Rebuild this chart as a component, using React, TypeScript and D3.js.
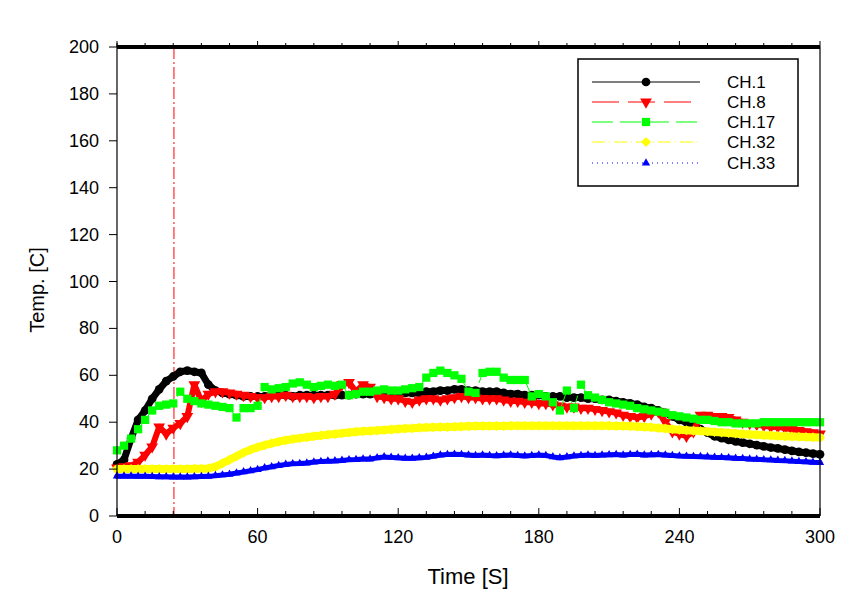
import React from "react";
import * as d3 from "d3";

// sample times (s), every 3 s
const times: number[] = d3.range(0, 301, 3);

const ch1: number[] = [
  22, 24, 33, 41, 45, 50, 54, 57.5, 59.5, 61.5, 62, 61.5, 61, 56, 53.5, 52.5, 52, 51.5, 51, 51,
  51, 51, 51.5, 51.5, 51.5, 51, 51.5, 51.5, 51.5, 51.5, 51.5, 51.5, 51.5, 51.5, 52, 52, 52, 52, 52, 52,
  52, 52.5, 52.5, 52.5, 53, 53, 53.5, 53.5, 54, 54, 53.5, 53.5, 53, 53, 53, 52.5, 52, 52, 51.5, 51.5,
  51.5, 51, 51, 51, 50.5, 50.5, 50.5, 50, 50, 49.5, 49.5, 49, 48.5, 48, 47.5, 46.5, 46, 45, 44, 42.5,
  41, 40, 38.5, 37, 35.5, 34, 33.2, 32.5, 31.8, 31.3, 30.8, 30.2, 29.7, 29.2, 28.8, 28.3, 27.8, 27.3, 27, 26.6,
  26.3,
];

const ch8: number[] = [
  20.5, 21, 21.5, 23, 26, 29.5, 38, 35, 37.5, 39.5, 42.5, 56, 49, 52, 53, 53, 52.5, 52, 51.5, 51,
  50.5, 50.5, 51, 51, 51.5, 51, 51, 51, 50.5, 51, 51, 52, 56, 57, 53, 56, 55, 51, 50.5, 50,
  50, 49, 48.5, 49.5, 50, 50, 49.5, 50, 50.5, 51, 50.5, 50.5, 50, 50, 50, 49.5, 49, 49, 48.5, 48.5,
  48, 48, 47.5, 47, 46.5, 46.5, 46, 46, 45.5, 45, 44.5, 44, 43, 42.5, 42, 42.5, 43.5, 44.5, 40, 36,
  35, 34, 36, 43, 43, 42.5, 42.5, 42, 41, 40, 39.5, 39, 38.5, 38, 38, 37.5, 37, 36.5, 36, 35.5,
  35,
];

const ch17: number[] = [
  28, 30, 33, 37, 41, 45, 47, 47.5, 48, 53, 50, 49, 48, 47.5, 47, 46.5, 46, 42, 46, 46,
  47, 55, 54, 54.5, 55, 56.5, 57, 56, 55, 55.5, 56, 55.5, 56, 51.5, 52, 53, 53, 53.5, 54, 53.5,
  53.5, 54, 54.5, 55, 59, 61, 62, 61, 60, 58.5, 53, 52.5, 61, 61.5, 61.5, 59, 58, 58, 58, 51,
  52, 51, 48.5, 45, 53.5, 46, 56, 51.5, 50.5, 49.5, 48.5, 48, 47.5, 47, 46, 45.5, 45, 44.5, 44, 43,
  42.5, 42, 41.5, 41, 41, 40.5, 40, 40, 39.5, 39.5, 39.5, 39.5, 40, 40, 40, 40, 40, 40, 40, 40,
  40,
];

const ch32: number[] = [
  20, 20, 20, 20, 20, 20, 20, 20, 20, 20, 20, 20.1, 20.2, 20.3, 21, 22.5, 24, 25.5, 27, 28.3,
  29.3, 30.2, 31, 31.7, 32.3, 32.8, 33.2, 33.6, 34, 34.3, 34.7, 35, 35.3, 35.6, 35.9, 36.1, 36.3, 36.5, 36.7, 36.9,
  37.1, 37.3, 37.4, 37.6, 37.7, 37.8, 37.9, 38, 38.1, 38.2, 38.3, 38.4, 38.4, 38.4, 38.4, 38.4, 38.5, 38.5, 38.5, 38.5,
  38.5, 38.5, 38.5, 38.5, 38.5, 38.5, 38.5, 38.5, 38.5, 38.5, 38.5, 38.4, 38.4, 38.3, 38.2, 38, 37.8, 37.5, 37.3, 37,
  36.8, 36.6, 36.4, 36.2, 36, 35.8, 35.6, 35.4, 35.2, 35, 34.8, 34.6, 34.4, 34.3, 34.1, 34, 33.9, 33.8, 33.7, 33.6,
  33.5,
];

const ch33: number[] = [
  17, 17, 17, 16.9, 16.9, 16.8, 16.7, 16.7, 16.6, 16.6, 16.6, 16.7, 16.8, 16.9, 17.2, 17.5, 17.8, 18.3, 18.8, 19.3,
  19.8, 20.5, 21, 21.5, 22, 22.3, 22.4, 22.6, 23, 23.2, 23.4, 23.5, 23.7, 24, 24.1, 24.3, 24.3, 24.8, 25.2, 25,
  24.8, 24.6, 24.6, 24.8, 25, 25.5, 26, 26.2, 26.3, 26.2, 26, 25.8, 26, 25.8, 25.7, 25.9, 26, 25.8, 25.6, 25.8,
  26, 25.8, 25.2, 24.8, 25.2, 25.6, 25.8, 26, 25.8, 26, 26.1, 26.2, 26, 26.2, 26.3, 26, 26.1, 26.2, 26, 25.8,
  25.6, 25.5, 25.4, 25.3, 25.2, 25, 24.9, 24.8, 24.6, 24.5, 24.3, 24.2, 24, 23.9, 23.7, 23.6, 23.4, 23.2, 23.1, 22.9,
  22.8,
];

const seriesNames = ["CH.1", "CH.8", "CH.17", "CH.32", "CH.33"];
const seriesValues = [ch1, ch8, ch17, ch32, ch33];
const seriesColors = ["#000000", "#ff0000", "#00ff00", "#ffff00", "#0000ff"];

const xTicks = [0, 60, 120, 180, 240, 300];
const xMinorStep = 12;
const yTicks = [0, 20, 40, 60, 80, 100, 120, 140, 160, 180, 200];
const eventTimes = [24.3];

// band: width of the dense marker trail (markers every sample overlap into a band)
const styles = [
  { dash: "none", symbol: "circle", size: 60, band: 7 },
  { dash: "27,9", symbol: "triDown", size: 60, band: 6 },
  { dash: "21,7", symbol: "square", size: 68, band: 0 },
  { dash: "13,4,1,4", symbol: "diamond", size: 50, band: 8 },
  { dash: "1,4", symbol: "triUp", size: 30, band: 5 },
];

function symbolPath(kind: string, size: number): string {
  let t: any = d3.symbolCircle;
  if (kind === "square") t = d3.symbolSquare;
  if (kind === "diamond") t = d3.symbolSquare;
  if (kind === "triDown" || kind === "triUp") t = d3.symbolTriangle;
  return d3.symbol().type(t).size(size)() as string;
}
function symbolRot(kind: string): number {
  if (kind === "triDown") return 180;
  if (kind === "diamond") return 45;
  return 0;
}

export default function App() {
  const W = 865, H = 599;
  const x = d3.scaleLinear().domain([0, 300]).range([117, 820]);
  const y = d3.scaleLinear().domain([0, 200]).range([516, 47]);
  const font = "'Liberation Sans', Arial, sans-serif";
  const minor = d3.range(0, 301, xMinorStep);

  const legendX = 578, legendY = 59, legendW = 220, legendH = 127;
  const legendRowY = [82, 102, 122, 142, 163];

  return (
    <svg width={W} height={H} style={{ position: "absolute", left: 0, top: 0, background: "#fff" }}
      fontFamily={font}>
      <rect x={0} y={0} width={W} height={H} fill="#fff" />
      {/* event line */}
      {eventTimes.map((t, i) => (
        <line key={"ev" + i} x1={x(t)} x2={x(t)} y1={y(200)} y2={y(0)} stroke="#ff0000"
          strokeWidth={1} strokeDasharray="12,3,2,3" />
      ))}
      {/* series */}
      {seriesValues.map((vals, si) => {
        const line = d3.line<number>().x((_, i) => x(times[i])).y((v) => y(v));
        const st = styles[si];
        const p = symbolPath(st.symbol, st.size);
        const rot = symbolRot(st.symbol);
        const d = line(vals) || "";
        return (
          <g key={"s" + si}>
            {st.band > 0 && (
              <path d={d} fill="none" stroke={seriesColors[si]} strokeWidth={st.band}
                strokeLinejoin="round" strokeLinecap="round" />
            )}
            <path d={d} fill="none" stroke={seriesColors[si]} strokeWidth={1}
              strokeDasharray={st.dash} />
            {vals.map((v, i) => (
              <path key={i} d={p} fill={seriesColors[si]}
                transform={`translate(${x(times[i])},${y(v)}) rotate(${rot})`} />
            ))}
          </g>
        );
      })}
      {/* frame */}
      <line x1={x(0)} x2={x(0)} y1={43} y2={y(0)} stroke="#000" strokeWidth={1.2} />
      <line x1={x(300)} x2={x(300)} y1={y(200)} y2={y(0)} stroke="#000" strokeWidth={1.2} />
      <line x1={x(0)} x2={x(300)} y1={y(200)} y2={y(200)} stroke="#000" strokeWidth={4} />
      <line x1={x(0)} x2={x(300)} y1={y(0)} y2={y(0)} stroke="#000" strokeWidth={4} />
      {/* x minor/major ticks */}
      {minor.map((t) => {
        const major = t % 60 === 0;
        return (
          <g key={"xt" + t}>
            <line x1={x(t)} x2={x(t)} y1={y(0)} y2={y(0) - (major ? 8 : 5)} stroke="#000" strokeWidth={1} />
            <line x1={x(t)} x2={x(t)} y1={y(200)} y2={y(200) - (major ? 6 : 4)} stroke="#000" strokeWidth={1} />
          </g>
        );
      })}
      {xTicks.map((t) => (
        <text key={"xl" + t} x={x(t)} y={y(0) + 27} textAnchor="middle" fontSize={18} fill="#000">
          {t}
        </text>
      ))}
      {yTicks.map((v) => (
        <g key={"yt" + v}>
          <line x1={x(0) - 8} x2={x(0)} y1={y(v)} y2={y(v)} stroke="#000" strokeWidth={1} />
          <text x={x(0) - 18} y={y(v) + 6} textAnchor="end" fontSize={18} fill="#000">{v}</text>
        </g>
      ))}
      <text x={468} y={584} textAnchor="middle" fontSize={22} fill="#000">Time [S]</text>
      <text transform={`translate(44,290) rotate(-90)`} textAnchor="middle" fontSize={20} fill="#000">
        Temp. [C]
      </text>
      {/* legend */}
      <rect x={legendX} y={legendY} width={legendW} height={legendH} fill="#fff" stroke="#000" strokeWidth={1.5} />
      {seriesNames.map((name, si) => {
        const st = styles[si];
        const ly = legendRowY[si];
        return (
          <g key={"lg" + si}>
            <line x1={592} x2={700} y1={ly} y2={ly} stroke={seriesColors[si]} strokeWidth={1.2}
              strokeDasharray={st.dash} />
            <path d={symbolPath(st.symbol, st.size)} fill={seriesColors[si]}
              transform={`translate(646,${ly}) rotate(${symbolRot(st.symbol)})`} />
            <text x={727} y={ly + 6} fontSize={17} fill="#000">{name}</text>
          </g>
        );
      })}
    </svg>
  );
}
